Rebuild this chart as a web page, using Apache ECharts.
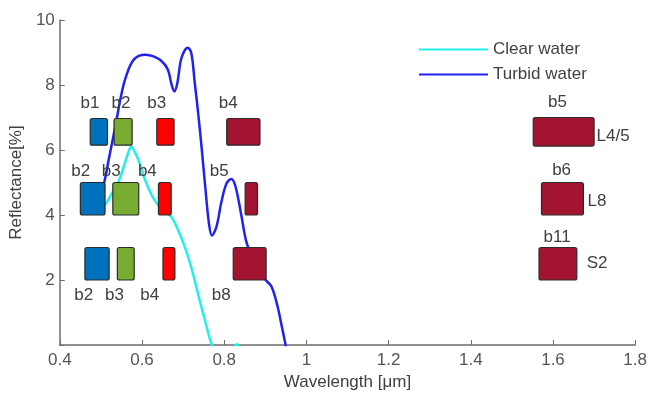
<!DOCTYPE html>
<html>
<head>
<meta charset="utf-8">
<script src="https://cdn.jsdelivr.net/npm/echarts@6/dist/echarts.min.js"></script>
<style>
html,body{margin:0;padding:0;background:#fff;}
#chart{width:650px;height:396px;}
</style>
</head>
<body>
<div id="chart"></div>
<script>
// ---- Data ----
const seriesNames = ['Clear water', 'Turbid water'];

const clearX = [0.490, 0.512, 0.528, 0.544, 0.556, 0.566, 0.574, 0.582, 0.592, 0.608, 0.624, 0.640, 0.656, 0.672, 0.688, 0.704, 0.716, 0.728, 0.740, 0.753, 0.765, 0.775, 0.790, 0.810, 0.822, 0.831, 0.845, 0.870];
const clearY = [4.05, 4.35, 4.70, 5.06, 5.50, 5.90, 6.10, 5.95, 5.67, 5.06, 4.60, 4.29, 4.10, 3.93, 3.53, 3.02, 2.56, 2.00, 1.39, 0.77, 0.20, -0.15, -0.45, -0.40, -0.12, 0.02, -0.30, -0.80];

const turbidX = [0.480, 0.500, 0.508, 0.520, 0.536, 0.548, 0.560, 0.580, 0.608, 0.628, 0.648, 0.663, 0.672, 0.679, 0.686, 0.696, 0.711, 0.720, 0.728, 0.737, 0.745, 0.754, 0.763, 0.770, 0.781, 0.793, 0.805, 0.817, 0.827, 0.841, 0.853, 0.865, 0.881, 0.901, 0.915, 0.929, 0.941, 0.949, 0.955];
const turbidY = [4.20, 4.70, 5.00, 5.77, 6.79, 7.60, 8.22, 8.78, 8.93, 8.88, 8.73, 8.47, 8.01, 7.80, 8.06, 8.83, 9.15, 8.98, 8.11, 7.09, 6.08, 4.85, 3.73, 3.37, 3.63, 4.39, 4.95, 5.11, 4.90, 4.04, 3.22, 2.80, 2.41, 2.00, 1.80, 1.23, 0.52, 0.03, -0.40];

// Band rectangles (wavelength start/end, reflectance bottom/top, spectral region 0=blue 1=green 2=red 3=infrared)
const bandX0 = [0.474, 0.532, 0.636, 0.806, 1.552,  0.450, 0.529, 0.640, 0.851, 1.572,  0.461, 0.540, 0.651, 0.822, 1.566];
const bandX1 = [0.516, 0.576, 0.678, 0.887, 1.700,  0.510, 0.592, 0.671, 0.881, 1.674,  0.520, 0.581, 0.680, 0.902, 1.658];
const bandY0 = [6.15, 6.15, 6.15, 6.15, 6.12,  4.0, 4.0, 4.0, 4.0, 4.0,  2.0, 2.0, 2.0, 2.0, 2.0];
const bandY1 = [6.97, 6.97, 6.97, 6.97, 7.00,  5.0, 5.0, 5.0, 5.0, 5.0,  3.0, 3.0, 3.0, 3.0, 3.0];
const bandRegion = [0, 1, 2, 3, 3,  0, 1, 2, 3, 3,  0, 1, 2, 3, 3];

// Band name annotations
const bandLabels = ['b1', 'b2', 'b3', 'b4', 'b5',  'b2', 'b3', 'b4', 'b5', 'b6',  'b2', 'b3', 'b4', 'b8', 'b11'];
const bandLabelX = [0.4735, 0.549, 0.636, 0.810, 1.611,  0.451, 0.525, 0.613, 0.788, 1.621,  0.458, 0.533, 0.619, 0.793, 1.610];
const bandLabelY = [7.45, 7.45, 7.45, 7.45, 7.48,  5.34, 5.34, 5.34, 5.34, 5.37,  1.53, 1.53, 1.53, 1.53, 3.32];

// Sensor annotations
const sensorLabels = ['L4/5', 'L8', 'S2'];
const sensorLabelX = [1.706, 1.684, 1.682];
const sensorLabelY = [6.43, 4.42, 2.51];

// Axes
const xMin = 0.4, xMax = 1.8, xStep = 0.2;
const yMin = 0, yMax = 10, yStep = 2;

// ---- Styles ----
const regionColors = ['#0072BD', '#77AC30', '#FF0000', '#A2142F'];
const FONT = 'Arial, "Liberation Sans", sans-serif';
const textColor = '#404040';

const chart = echarts.init(document.getElementById('chart'), null, {renderer: 'canvas'});

const zip = (a, b) => a.map((v, i) => [v, b[i]]);
const rectData = bandX0.map((v, i) => [v, bandX1[i], bandY0[i], bandY1[i], bandRegion[i]]);
const labelData = bandLabels.map((t, i) => [bandLabelX[i], bandLabelY[i], t]);
const sensorData = sensorLabels.map((t, i) => [sensorLabelX[i], sensorLabelY[i], t]);

function textItem(align) {
  return function (params, api) {
    const p = api.coord([api.value(0), api.value(1)]);
    return {
      type: 'text',
      x: p[0], y: p[1],
      style: {
        text: api.value(2),
        fill: textColor,
        fontSize: 17,
        fontFamily: FONT,
        align: align,
        verticalAlign: 'middle'
      }
    };
  };
}

const option = {
  backgroundColor: '#fff',
  animation: false,
  grid: {left: 57, right: 12, top: 20, bottom: 49},
  legend: {
    data: seriesNames,
    orient: 'vertical',
    left: 413,
    top: 36,
    itemWidth: 69,
    itemHeight: 14,
    itemGap: 8,
    itemStyle: {opacity: 0},
    textStyle: {fontSize: 17, fontFamily: FONT, color: textColor, lineHeight: 14}
  },
  xAxis: {
    type: 'value',
    min: xMin, max: xMax, interval: xStep,
    name: 'Wavelength [μm]',
    nameLocation: 'middle',
    nameGap: 29,
    nameTextStyle: {fontSize: 17, fontFamily: FONT, color: textColor},
    axisLine: {show: true, onZero: false, lineStyle: {color: '#6e6e6e', width: 1.5}},
    axisTick: {show: true, inside: true, length: 5, lineStyle: {color: '#6e6e6e'}},
    axisLabel: {fontSize: 17, fontFamily: FONT, color: '#555', margin: 7,
      formatter: v => String(Math.round(v * 10) / 10)},
    splitLine: {show: false}
  },
  yAxis: {
    type: 'value',
    min: yMin, max: yMax, interval: yStep,
    name: 'Reflectance[%]',
    nameLocation: 'middle',
    nameGap: 26,
    nameTextStyle: {fontSize: 17, fontFamily: FONT, color: textColor},
    axisLine: {show: true, lineStyle: {color: '#6e6e6e', width: 1.5}},
    axisTick: {show: true, inside: true, length: 5, lineStyle: {color: '#6e6e6e'}},
    axisLabel: {fontSize: 17, fontFamily: FONT, color: '#555', margin: 5,
      formatter: v => v === 0 ? '' : String(v)},
    splitLine: {show: false}
  },
  series: [
    {
      name: seriesNames[0],
      type: 'line',
      data: zip(clearX, clearY),
      smooth: 0.35,
      symbol: 'none',
      clip: true,
      z: 2,
      lineStyle: {color: '#22EEEE', width: 2.5},
      itemStyle: {color: '#22EEEE'}
    },
    {
      name: seriesNames[1],
      type: 'line',
      data: zip(turbidX, turbidY),
      smooth: 0.35,
      symbol: 'none',
      clip: true,
      z: 2,
      lineStyle: {color: '#2222EE', width: 2.5},
      itemStyle: {color: '#2222EE'}
    },
    {
      type: 'custom',
      z: 4,
      data: rectData,
      encode: {x: [0, 1], y: [2, 3]},
      renderItem: function (params, api) {
        const pa = api.coord([api.value(0), api.value(3)]);
        const pb = api.coord([api.value(1), api.value(2)]);
        return {
          type: 'rect',
          shape: {x: pa[0], y: pa[1], width: pb[0] - pa[0], height: pb[1] - pa[1], r: 2},
          style: {fill: regionColors[api.value(4)], stroke: '#2b2b2b', lineWidth: 1.2}
        };
      }
    },
    {
      type: 'custom',
      z: 5,
      data: labelData,
      encode: {x: 0, y: 1},
      renderItem: textItem('center')
    },
    {
      type: 'custom',
      z: 5,
      data: sensorData,
      encode: {x: 0, y: 1},
      renderItem: textItem('left')
    }
  ]
};
chart.setOption(option);
</script>
</body>
</html>
